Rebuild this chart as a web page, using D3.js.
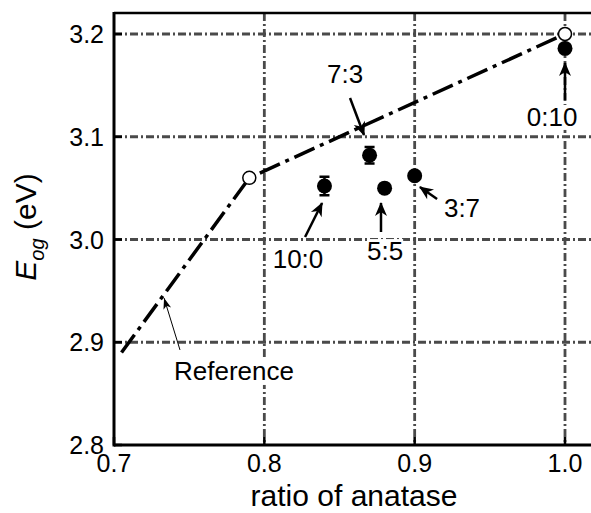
<!DOCTYPE html>
<html><head><meta charset="utf-8">
<script src="https://cdn.jsdelivr.net/npm/d3@7"></script>
<style>body{margin:0;background:#fff}svg{display:block}text{font-family:"Liberation Sans",Arial,sans-serif}</style>
</head><body>
<svg id="c" width="591" height="513"></svg>
<script>
// data
const xTicks = [0.7, 0.8, 0.9, 1.0];
const yTicks = [2.8, 2.9, 3.0, 3.1, 3.2];
const xTickLabels = ["0.7", "0.8", "0.9", "1.0"];
const yTickLabels = ["2.8", "2.9", "3.0", "3.1", "3.2"];
const refX = [0.705, 0.79, 1.0];
const refY = [2.89, 3.06, 3.20];
const refOpenX = [0.79, 1.0];
const refOpenY = [3.06, 3.20];
const sampleLabels = ["10:0", "7:3", "5:5", "3:7", "0:10"];
const sampleX = [0.84, 0.87, 0.88, 0.90, 1.00];
const sampleY = [3.052, 3.082, 3.050, 3.062, 3.186];
const sampleErr = [0.009, 0.008, 0.003, 0.003, 0.003];
// annotation layout (data coords): label pos, arrow tail, arrow head
const annLabelX = [0.8224, 0.8537, 0.8803, 0.9315, 0.9914];
const annLabelY = [2.9723, 3.1523, 2.980, 3.0219, 3.1105];
const annTailX = [0.8271, 0.857, 0.8776, 0.9149, 1.0];
const annTailY = [3.0024, 3.1377, 3.0073, 3.0394, 3.1358];
const annHeadX = [0.8384, 0.8663, 0.8776, 0.9035, 1.0];
const annHeadY = [3.0355, 3.1017, 3.0355, 3.0511, 3.1718];
const refLabel = "Reference";
const refLabelX = 0.7798, refLabelY = 2.8633;
const refArrow = [[0.7439, 2.8925], [0.7333, 2.943]];

const svg = d3.select("#c");
const L = 114, R = 591, T = 13, B = 445;
const x = d3.scaleLinear().domain([0.7, 1.0]).range([114, 565]);
const y = d3.scaleLinear().domain([2.8, 3.2]).range([445, 34]);

const defs = svg.append("defs");
defs.append("clipPath").attr("id", "clip").append("rect")
  .attr("x", L).attr("y", T).attr("width", R - L).attr("height", B - T);
defs.append("marker").attr("id", "ah").attr("viewBox", "-14 -7 16 14")
  .attr("refX", 0).attr("refY", 0).attr("markerWidth", 16).attr("markerHeight", 14)
  .attr("markerUnits", "userSpaceOnUse").attr("orient", "auto")
  .append("path").attr("d", "M1,0 L-13,-6 L-9,0 L-13,6 Z").attr("fill", "#000");
defs.append("marker").attr("id", "ahThin").attr("viewBox", "-14 -7 16 14")
  .attr("refX", 0).attr("refY", 0).attr("markerWidth", 16).attr("markerHeight", 14)
  .attr("markerUnits", "userSpaceOnUse").attr("orient", "auto")
  .append("path").attr("d", "M0,0 L-11,-4 L-8,0 L-11,4 Z").attr("fill", "#000");

const g = svg.append("g").attr("clip-path", "url(#clip)");
const gridDash = "8,3,2,3";
// grid
g.selectAll(".gx").data(xTicks.filter(d => d > 0.7)).join("line")
  .attr("x1", d => x(d)).attr("x2", d => x(d)).attr("y1", T).attr("y2", B)
  .attr("stroke", "#4a4a4a").attr("stroke-width", 2.8).attr("stroke-dasharray", gridDash);
g.selectAll(".gy").data(yTicks.filter(d => d > 2.8)).join("line")
  .attr("x1", L).attr("x2", R).attr("y1", d => y(d)).attr("y2", d => y(d))
  .attr("stroke", "#4a4a4a").attr("stroke-width", 2.8).attr("stroke-dasharray", gridDash);

// reference line
const refPts = refX.map((v, i) => [v, refY[i]]);
g.append("path").datum(refPts)
  .attr("d", d3.line().x(d => x(d[0])).y(d => y(d[1])))
  .attr("fill", "none").attr("stroke", "#000").attr("stroke-width", 3.5)
  .attr("stroke-dasharray", "22,6,4,6");
g.selectAll(".oc").data(refOpenX.map((v, i) => [v, refOpenY[i]])).join("circle")
  .attr("cx", d => x(d[0])).attr("cy", d => y(d[1])).attr("r", 6.5)
  .attr("fill", "#fff").attr("stroke", "#000").attr("stroke-width", 1.5);

// error bars
const samp = sampleX.map((v, i) => ({x: v, y: sampleY[i], e: sampleErr[i]}));
g.selectAll(".eb").data(samp).join("path")
  .attr("d", d => {
    const cx = x(d.x), y1 = y(d.y + d.e), y2 = y(d.y - d.e);
    return `M${cx},${y1}V${y2}M${cx-5},${y1}H${cx+5}M${cx-5},${y2}H${cx+5}`;
  })
  .attr("stroke", "#000").attr("stroke-width", 2.5).attr("fill", "none");
g.selectAll(".pt").data(samp).join("circle")
  .attr("cx", d => x(d.x)).attr("cy", d => y(d.y)).attr("r", 7.5).attr("fill", "#000");

// annotations
sampleLabels.forEach((lab, i) => {
  const t = svg.append("text").attr("x", x(annLabelX[i])).attr("y", y(annLabelY[i]))
    .attr("text-anchor", "middle").attr("font-size", 26).text(lab);
  const bb = t.node().getBBox();
  svg.insert("rect", () => t.node()).attr("x", bb.x).attr("y", bb.y + 3)
    .attr("width", bb.width).attr("height", bb.height - 5).attr("fill", "#fff");
  svg.append("line").attr("x1", x(annTailX[i])).attr("y1", y(annTailY[i]))
    .attr("x2", x(annHeadX[i])).attr("y2", y(annHeadY[i]))
    .attr("stroke", "#000").attr("stroke-width", 2.5).attr("marker-end", "url(#ah)");
});
{
  const t = svg.append("text").attr("x", x(refLabelX)).attr("y", y(refLabelY))
    .attr("text-anchor", "middle").attr("font-size", 26).text(refLabel);
  const bb = t.node().getBBox();
  svg.insert("rect", () => t.node()).attr("x", bb.x).attr("y", bb.y + 2)
    .attr("width", bb.width).attr("height", bb.height - 3).attr("fill", "#fff");
  svg.append("line").attr("x1", x(refArrow[0][0])).attr("y1", y(refArrow[0][1]))
    .attr("x2", x(refArrow[1][0])).attr("y2", y(refArrow[1][1]))
    .attr("stroke", "#000").attr("stroke-width", 1).attr("marker-end", "url(#ahThin)");
}

// spines and ticks
svg.append("line").attr("x1", L).attr("x2", R).attr("y1", T).attr("y2", T)
  .attr("stroke", "#000").attr("stroke-width", 2.5);
svg.append("line").attr("x1", L).attr("x2", R).attr("y1", B).attr("y2", B)
  .attr("stroke", "#000").attr("stroke-width", 3);
svg.append("line").attr("x1", L).attr("x2", L).attr("y1", T - 1).attr("y2", B + 1.5)
  .attr("stroke", "#000").attr("stroke-width", 3);
svg.selectAll(".yt").data(yTicks).join("line")
  .attr("x1", L).attr("x2", L + 8).attr("y1", d => y(d)).attr("y2", d => y(d))
  .attr("stroke", "#000").attr("stroke-width", 2.5);
svg.selectAll(".xt").data(xTicks).join("line")
  .attr("x1", d => x(d)).attr("x2", d => x(d)).attr("y1", B).attr("y2", B - 8)
  .attr("stroke", "#000").attr("stroke-width", 2.5);

svg.selectAll(".yl").data(yTicks).join("text")
  .attr("x", 104).attr("y", d => y(d) + 9).attr("text-anchor", "end")
  .attr("font-size", 25).text((d, i) => yTickLabels[i]);
svg.selectAll(".xl").data(xTicks).join("text")
  .attr("x", d => x(d)).attr("y", 472).attr("text-anchor", "middle")
  .attr("font-size", 25).text((d, i) => xTickLabels[i]);

svg.append("text").attr("x", 354).attr("y", 506).attr("text-anchor", "middle")
  .attr("font-size", 30).text("ratio of anatase");
const yt = svg.append("text").attr("transform", "translate(36,227) rotate(-90)")
  .attr("text-anchor", "middle").attr("font-size", 30);
yt.append("tspan").attr("font-style", "italic").text("E");
yt.append("tspan").attr("font-size", 20).attr("font-style", "italic").attr("dy", 8).text("og");
yt.append("tspan").attr("dy", -8).text(" (eV)");
</script>
</body></html>
